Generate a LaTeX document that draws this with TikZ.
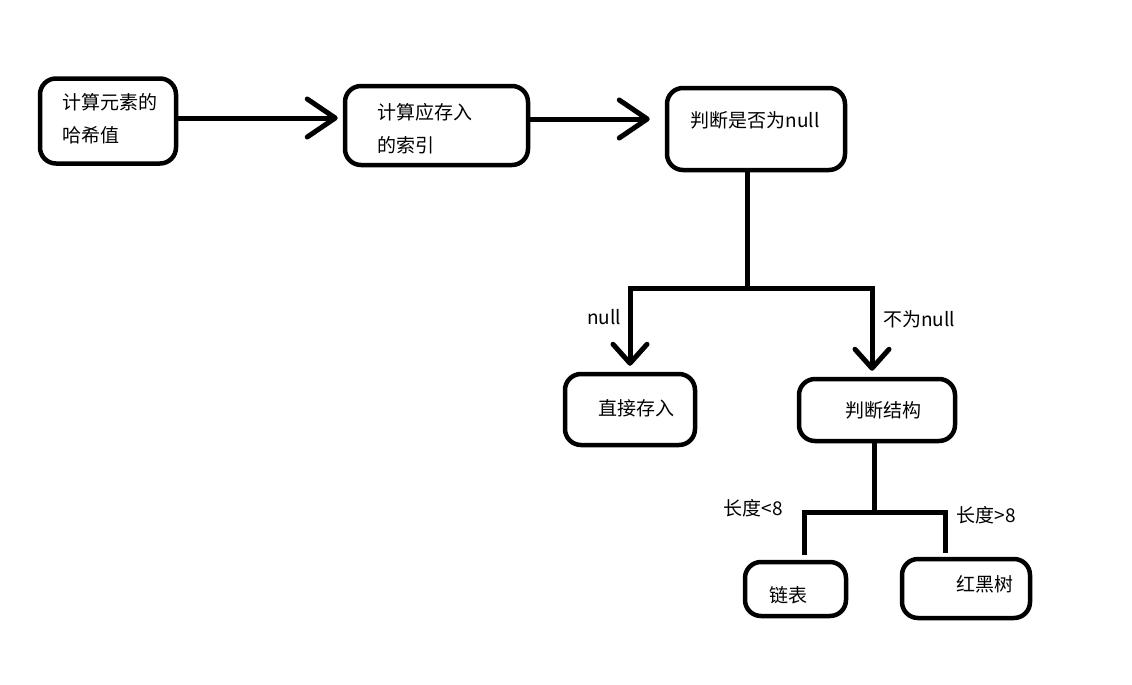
\documentclass[tikz,border=0pt]{standalone}
\usepackage{fontspec}
\setmainfont{Noto Sans CJK SC}
\usetikzlibrary{arrows.meta,calc}
\tikzset{
  box/.style={draw, line width=4.5pt, rounded corners=16pt, inner sep=0pt},
  txt/.style={inner sep=0pt, font=\fontsize{19pt}{33pt}\selectfont, text=black},
  conn/.style={line width=5pt},
  harrow/.style={line width=5pt, -{Straight Barb[length=28pt,width=38pt,round]}},
  varrow/.style={line width=5pt, shorten >=6pt, -{Straight Barb[length=19pt,width=34pt,round]}}
}
\begin{document}
\begin{tikzpicture}[x=1pt,y=-1pt]
\useasboundingbox (0,0) rectangle (1132,685);
% boxes
\node[box, minimum width=136pt, minimum height=85pt] (b1) at (108,121) {};
\node[box, minimum width=183pt, minimum height=79pt] (b2) at (436.5,125.5) {};
\node[box, minimum width=178pt, minimum height=82pt] (b3) at (756,129) {};
\node[box, minimum width=130pt, minimum height=71pt] (b4) at (630,409.5) {};
\node[box, minimum width=156pt, minimum height=62pt] (b5) at (877,410) {};
\node[box, minimum width=101pt, minimum height=54pt] (b6) at (795.5,589) {};
\node[box, minimum width=128pt, minimum height=59pt] (b7) at (966,588.5) {};
% texts
\node[txt, align=left, anchor=west] (t1) at (62,118.5) {计算元素的\\哈希值};
\node[txt, align=left, anchor=west] (t2) at (377,128.5) {计算应存入\\的索引};
\node[txt] (t3) at (755,120) {判断是否为null};
\node[txt] (t4) at (636,408) {直接存入};
\node[txt] (t5) at (883,410) {判断结构};
\node[txt] (t6) at (788,595) {链表};
\node[txt] (t7) at (985,584) {红黑树};
\node[txt] (lnull) at (604,317) {null};
\node[txt] (lnot) at (919,319) {不为null};
\node[txt] (llt) at (753,508) {长度<8};
\node[txt] (lgt) at (986,515) {长度>8};
% junction coordinates
\coordinate (j1) at (747,288);
\coordinate (j2) at (874,512);
% top arrows
\draw[harrow] (b1.east |- 0,118) -- ($(b2.west |- 0,118)+(-5,0)$);
\draw[harrow] (b2.east |- 0,119) -- ($(b3.west |- 0,119)+(-15,0)$);
% first branching
\draw[conn] (b3.south -| j1) -- (j1);
\draw[varrow] (j1) -| (b4.north);
\draw[varrow] (j1) -| ($(b5.north)+(-5,0)$);
% second branching
\draw[conn] (b5.south -| j2) -- (j2);
\draw[conn, shorten >=5pt] (j2) -| ($(b6.north)+(8.5,0)$);
\draw[conn, shorten >=4pt] (j2) -| ($(b7.north)+(-21,0)$);
\end{tikzpicture}
\end{document}
